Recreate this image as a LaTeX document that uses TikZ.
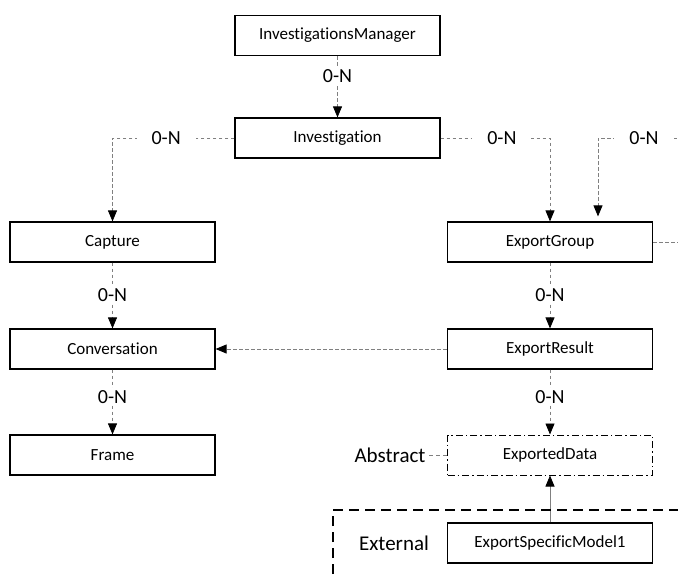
\documentclass[tikz,border=0pt]{standalone}
\usepackage{fontspec}
\setmainfont{Carlito}[Ligatures={NoCommon}]
\usetikzlibrary{arrows.meta}

\begin{document}
\begin{tikzpicture}[
x=1pt,y=-1pt,
ClassBox/.style={draw=black,line width=1.2pt,minimum width=205pt,minimum height=40pt,inner sep=0pt,font=\fontsize{17}{20}\selectfont},
AbstractBox/.style={ClassBox,line width=1pt,dash pattern=on 7pt off 3pt on 1.5pt off 3pt},
Links/.style={draw=gray,line width=0.8pt,dash pattern=on 3.5pt off 2.5pt,-{Triangle[color=black,length=11pt,width=9pt]}},
Solid/.style={draw=gray,line width=0.8pt,-{Triangle[color=black,length=11pt,width=9pt]}},
Mult/.style={fill=white,inner xsep=15pt,inner ysep=2pt,font=\fontsize{20}{24}\selectfont},
Tag/.style={font=\fontsize{21}{25}\selectfont},
Region/.style={draw=black,line width=1.5pt,dash pattern=on 10pt off 6pt}
]
\useasboundingbox (0,0) rectangle (678,576);
\clip (0,0) rectangle (678,576);

\node[ClassBox] (manager) at (337.5,35.5) {InvestigationsManager};
\node[ClassBox] (inv) at (337.5,138) {Investigation};
\node[ClassBox] (capture) at (112.5,242) {Capture};
\node[ClassBox] (conv) at (112.5,349) {Conversation};
\node[ClassBox] (frame) at (112.5,455) {Frame};
\node[ClassBox] (group) at (550,242) {ExportGroup};
\node[ClassBox] (result) at (550,349) {ExportResult};
\node[AbstractBox] (data) at (550,455) {ExportedData};
\node[ClassBox] (model) at (550,543) {ExportSpecificModel1};
\node[Tag] (abstract) at (390,455) {Abstract};
\node[Tag] (external) at (394,543) {External};

\coordinate (loop) at (700,138);
\coordinate (groupin) at ([xshift=48pt]group.north);
\coordinate (extbot) at (333,590);
\coordinate (extright) at (700,510);

\draw[Links] (manager) -- node[Mult,pos=0.32] (m1) {0-N} (inv);
\draw[Links] (inv.west) -| node[Mult,pos=0.28] (m2) {0-N} (capture.north);
\draw[Links] (inv.east) -| node[Mult,pos=0.28] (m3) {0-N} (group.north);
\draw[Links,shorten >=5pt] (group.east) -| (loop) -| (groupin);
\node[Mult] (m4) at (644,138) {0-N};
\draw[Links] (capture) -- node[Mult,pos=0.49] (m5) {0-N} (conv);
\draw[Links] (conv) -- node[Mult,pos=0.42] (m6) {0-N} (frame);
\draw[Links] (group) -- node[Mult,pos=0.49] (m7) {0-N} (result);
\draw[Links] (result) -- node[Mult,pos=0.42] (m8) {0-N} (data);
\draw[Links] (result) -- (conv);
\draw[Solid] (model) -- (data);
\draw[gray,line width=0.8pt,dash pattern=on 4pt off 3pt] (abstract) -- (data);

\draw[Region] (extbot) |- (extright);

\end{tikzpicture}
\end{document}
